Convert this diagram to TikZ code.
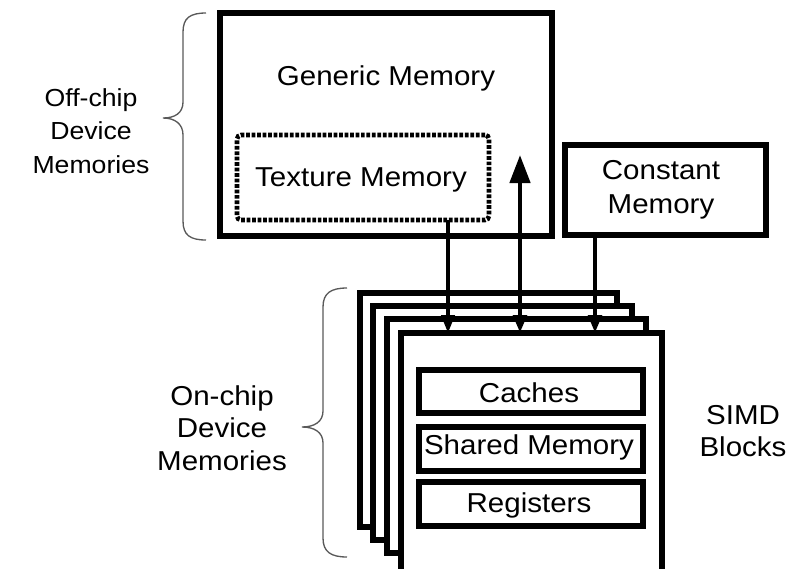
\documentclass[tikz,border=0pt]{standalone}
\usepackage{fontspec}
\setmainfont{Liberation Sans}[FakeStretch=1.08]
\usetikzlibrary{arrows.meta,fit}

\tikzset{
  bigtip/.tip={Triangle[length=21pt,width=15pt]},
  smalltip/.tip={Triangle[length=13.5pt,width=10pt]},
}

\begin{document}
\begin{tikzpicture}[x=0.75pt,y=-0.75pt,
  font=\fontsize{20.5}{24.5}\selectfont,
  box/.style={draw,line width=4.2pt,fill=white,inner sep=0pt,outer sep=0pt},
  dotbox/.style={draw,line width=3.4pt,dash pattern=on 2.8pt off 1.3pt,
    rounded corners=3pt,inner sep=0pt,outer sep=0pt},
  lbl/.style={align=center,inner sep=0pt},
  brace/.style={draw=black!65,line width=1pt},
]
\useasboundingbox (0,0) rectangle (796,568);

% off-chip memories
\node[box,fit={(220,13) (552,236)}] (gm) {};
\node[lbl] (gmtxt) at (386,78) {Generic Memory};
\node[dotbox,fit={(237,135) (489,220)}] (tex) {};
\node[lbl] (textxt) at (361,180) {Texture Memory};
\node[box,fit={(565,145) (766,235)}] (const) {};
\node[lbl,font=\fontsize{20.5}{25.5}\selectfont] (consttxt) at (661,190) {Constant\\Memory};

% stack of SIMD blocks, back to front
\node[box,fit={(360,293) (617,527)}] (s0) {};
\node[box,fit={(373,306) (632,540)}] (s1) {};
\node[box,fit={(387,319) (646,553)}] (s2) {};
\node[box,fit={(401,333) (662,572)}] (s3) {};

% on-chip memories inside the front block
\node[box,fit={(419,370) (643,413)}] (cache) {};
\node[box,fit={(419,427) (643,471)}] (shared) {};
\node[box,fit={(419,482) (643,526)}] (regs) {};
\node[lbl] (cachetxt) at (529,393) {Caches};
\node[lbl] (sharedtxt) at (529,447) {Shared Memory};
\node[lbl] (regstxt) at (529,505) {Registers};

% connectors
\coordinate (tx) at (448,0);
\coordinate (gx) at (520,0);
\coordinate (cx) at (595,0);
\coordinate (gmport) at (520,155);
\draw[line width=2.5pt,-{smalltip}] (tx |- tex.south) -- (tx |- s3.north);
\draw[line width=3.4pt,{bigtip}-{smalltip}] (gmport) -- (gx |- s3.north);
\draw[line width=3.1pt,-{smalltip}] (cx |- const.south) -- (cx |- s3.north);

% braces and side labels
\draw[brace] (206,13) .. controls (190,13) and (183,18) .. (183,32)
  -- (183,102) .. controls (183,113) and (175,118) .. (163,118)
  .. controls (175,118) and (183,124) .. (183,135)
  -- (183,221) .. controls (183,235) and (190,240) .. (206,240);
\node[lbl,font=\fontsize{18.5}{25}\selectfont] (offlbl) at (91,131) {Off-chip\\Device\\Memories};

\draw[brace] (347,288) .. controls (331,288) and (323,293) .. (323,307)
  -- (323,411) .. controls (323,422) and (314,427) .. (302,427)
  .. controls (314,427) and (323,432) .. (323,443)
  -- (323,538) .. controls (323,552) and (331,557) .. (347,557);
\node[lbl] (onlbl) at (222,428) {On-chip\\Device\\Memories};

\node[lbl,font=\fontsize{20.5}{24}\selectfont] (simdlbl) at (743,431) {SIMD\\Blocks};
\end{tikzpicture}
\end{document}
